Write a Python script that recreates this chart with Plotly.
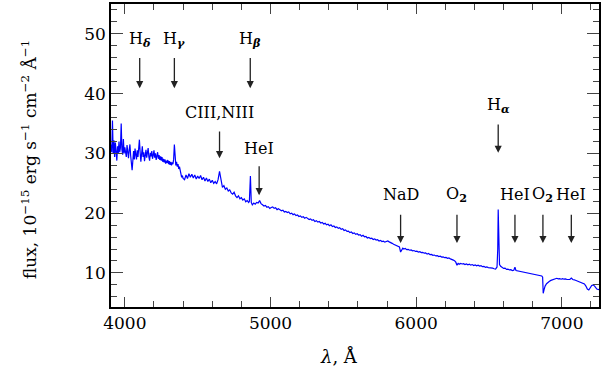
import plotly.graph_objects as go

# ---------------- data ----------------
wave_blue = [3905 + 5 * i for i in range(100)]  # 3905 .. 4400
flux_blue = [31.5, 30.2, 35.5, 30.0, 32.2, 29.4, 31.8, 30.4, 28.8, 31.2,
             30.0, 32.0, 30.2, 31.0, 35.0, 30.6, 29.8, 32.4, 30.0, 31.0,
             30.2, 29.4, 31.4, 30.0, 29.2, 30.6, 31.5, 29.6, 28.4, 27.2,
             28.8, 30.4, 29.0, 30.8, 29.8, 29.0, 30.5, 29.4, 30.8, 32.3,
             30.2, 28.6, 29.9, 31.2, 29.4, 30.2, 28.7, 29.8, 30.6, 29.3,
             30.2, 30.9, 29.4, 28.8, 30.1, 29.5, 30.4, 29.1, 29.7, 30.5,
             29.3, 30.0, 28.9, 29.6, 30.2, 29.1, 29.7, 28.9, 29.5, 28.8,
             29.4, 28.6, 29.1, 28.5, 29.0, 28.3, 28.8, 28.4, 28.9, 28.2,
             28.7, 28.1, 28.6, 28.0, 28.5, 28.2, 29.0, 31.5, 28.6, 28.0,
             28.6, 27.8, 28.2, 27.4, 27.8, 26.9, 26.6, 26.0, 26.3, 25.8]

wave_mid = [4410, 4420, 4430, 4440, 4450, 4460, 4470, 4480, 4490, 4500,
            4510, 4520, 4530, 4540, 4550, 4560, 4570, 4580, 4590, 4600,
            4610, 4620, 4630, 4640, 4650, 4660, 4670, 4680, 4690, 4700,
            4710, 4720, 4730, 4740, 4750, 4760, 4770, 4780, 4790, 4800,
            4810, 4820, 4830, 4840, 4850, 4855, 4862, 4868, 4875, 4885,
            4895, 4905, 4915, 4925, 4935, 4945, 4955, 4965, 4975, 4985, 4995]
flux_mid = [25.6, 26.4, 25.8, 26.6, 26.0, 26.5, 25.9, 26.4, 25.7, 26.2,
            25.8, 26.3, 25.6, 26.0, 25.4, 25.9, 25.3, 25.7, 25.1, 25.5,
            25.0, 25.3, 24.9, 25.6, 27.0, 25.2, 24.3, 24.6, 24.0, 24.2,
            23.7, 23.9, 23.4, 23.2, 23.5, 22.9, 22.6, 22.9, 22.4, 22.6,
            22.2, 22.4, 21.9, 22.1, 21.8, 22.0, 26.2, 21.8, 21.4, 21.7,
            21.5, 21.8, 21.7, 22.1, 21.6, 21.4, 21.2, 21.3, 21.0, 21.1, 20.8]

wave_green = [5005, 5015, 5025, 5035, 5045, 5055, 5065, 5075, 5085, 5095,
              5105, 5115, 5125, 5135, 5145, 5155, 5165, 5175, 5185, 5195,
              5205, 5215, 5225, 5235, 5245, 5255, 5265, 5275, 5285, 5295,
              5305, 5315, 5325, 5335, 5345, 5355, 5365, 5375, 5385, 5395,
              5405, 5415, 5425, 5435, 5445, 5455, 5465, 5475, 5485, 5495,
              5505, 5515, 5525, 5535, 5545, 5555, 5565, 5575, 5585, 5595,
              5605, 5615, 5625, 5635, 5645, 5655, 5665, 5675, 5685, 5695,
              5705, 5715, 5725, 5735, 5745, 5755, 5765, 5775, 5785, 5795,
              5805, 5815, 5825, 5835, 5845, 5855, 5865, 5875, 5885, 5893,
              5900, 5908, 5915, 5925, 5935, 5945, 5955, 5965, 5975, 5985,
              5995, 6005, 6015, 6025, 6035, 6045, 6055, 6065, 6075, 6085,
              6095, 6105, 6115, 6125, 6135, 6145, 6155, 6165, 6175, 6185,
              6195, 6205, 6215, 6225, 6235, 6245, 6255, 6265, 6272, 6280,
              6288, 6295, 6305, 6315, 6325, 6335, 6345, 6355, 6365, 6375,
              6385, 6395, 6405, 6415, 6425, 6435, 6445, 6455, 6465, 6475,
              6485, 6495, 6505, 6515, 6525, 6535, 6545]
flux_green = [20.95, 21.05, 20.8, 20.9, 20.6, 20.75, 20.55, 20.4, 20.5, 20.2,
              20.3, 20.1, 20.2, 19.9, 20.0, 19.75, 19.85, 19.6, 19.7, 19.45,
              19.55, 19.3, 19.4, 19.15, 19.3, 19.05, 18.95, 19.05, 18.8, 18.9,
              18.6, 18.75, 18.5, 18.6, 18.35, 18.45, 18.2, 18.3, 18.05, 18.15,
              17.9, 18.05, 17.75, 17.85, 17.6, 17.7, 17.45, 17.55, 17.3, 17.4,
              17.1, 17.2, 16.95, 17.0, 16.75, 16.85, 16.6, 16.7, 16.45, 16.55,
              16.35, 16.4, 16.15, 16.3, 16.05, 16.1, 15.85, 15.95, 15.75, 15.8,
              15.6, 15.7, 15.5, 15.55, 15.35, 15.45, 15.25, 15.3, 15.15, 15.25,
              15.35, 15.2, 15.0, 14.95, 14.8, 14.7, 14.6, 14.5, 14.35, 13.5,
              13.9, 14.15, 14.0, 14.1, 13.9, 13.95, 13.8, 13.85, 13.7, 13.75,
              13.6, 13.65, 13.5, 13.55, 13.4, 13.45, 13.3, 13.35, 13.15, 13.25,
              13.05, 13.1, 12.95, 13.0, 12.85, 12.9, 12.75, 12.8, 12.65, 12.7,
              12.55, 12.6, 12.45, 12.5, 12.35, 12.3, 12.15, 12.0, 11.8, 11.3,
              11.6, 11.45, 11.6, 11.5, 11.55, 11.4, 11.5, 11.35, 11.45, 11.3,
              11.4, 11.25, 11.35, 11.2, 11.3, 11.15, 11.2, 11.05, 11.1, 10.95,
              11.0, 10.9, 10.9, 10.8, 10.8, 10.7, 10.65]

wave_red = [6555, 6560, 6563, 6566, 6572, 6580, 6590, 6600, 6610, 6620,
            6630, 6640, 6650, 6660, 6670, 6678, 6685, 6695, 6705, 6715,
            6725, 6735, 6745, 6755, 6765, 6775, 6785, 6795, 6805, 6815,
            6825, 6835, 6845, 6855, 6862, 6868, 6872, 6878, 6885, 6895,
            6905, 6915, 6925, 6935, 6945, 6955, 6965, 6975, 6985, 6995,
            7005, 7015, 7025, 7035, 7045, 7055, 7065, 7075, 7085, 7095,
            7105, 7115, 7125, 7135, 7145, 7155, 7165, 7175, 7185, 7195,
            7205, 7215, 7225, 7240, 7255]
flux_red = [11.0, 14.0, 20.6, 14.0, 11.4, 11.1, 10.9, 10.75, 10.8, 10.6,
            10.65, 10.5, 10.55, 10.4, 10.45, 10.95, 10.4, 10.35, 10.3, 10.25,
            10.3, 10.15, 10.2, 10.05, 10.1, 9.95, 10.0, 9.85, 9.9, 9.75,
            9.8, 9.65, 9.7, 9.55, 9.5, 9.3, 6.6, 7.2, 7.8, 8.2,
            8.45, 8.6, 8.75, 8.85, 8.9, 9.0, 9.1, 9.0, 9.05, 8.95,
            9.05, 8.95, 9.0, 8.9, 8.95, 8.9, 9.15, 8.9, 8.85, 8.75,
            8.7, 8.6, 8.5, 8.45, 8.3, 8.15, 7.8, 7.3, 7.15, 7.6,
            7.9, 8.0, 7.8, 7.3, 7.2]

wavelength = wave_blue + wave_mid + wave_green + wave_red
flux = flux_blue + flux_mid + flux_green + flux_red

# line identifications: label, wavelength, text level, arrow tail, arrow tip
line_labels = ["H<sub><b><i>δ</i></b></sub>", "H<sub><b><i>γ</i></b></sub>",
               "H<sub><b><i>β</i></b></sub>", "CIII,NIII", "HeI",
               "H<sub><b><i>α</i></b></sub>", "NaD", "O<sub><b>2</b></sub>",
               "HeI", "O<sub><b>2</b></sub>", "HeI"]
line_waves = [4102, 4340, 4861, 4650, 4922, 6563, 5893, 6280, 6678, 6870, 7065]
text_levels = [49.0, 49.0, 49.0, 36.9, 30.9, 38.1, 23.1, 23.1, 23.1, 23.1, 23.1]
tail_levels = [46.2, 46.2, 46.2, 33.9, 28.1, 35.1, 20.0, 20.0, 20.0, 20.0, 20.0]
tip_levels = [40.9, 40.9, 40.9, 29.2, 23.0, 30.1, 15.0, 15.0, 15.0, 15.0, 15.0]

FONT = "DejaVu Serif"

fig = go.Figure()
fig.add_trace(go.Scatter(x=wavelength, y=flux, mode="lines",
                         line=dict(color="#0000ff", width=1.2),
                         hoverinfo="skip", showlegend=False))

annotations = []
for lab, w, tl, ta, tp in zip(line_labels, line_waves, text_levels, tail_levels, tip_levels):
    annotations.append(dict(x=w, y=tl, xref="x", yref="y", text=lab, showarrow=False,
                            font=dict(family=FONT, size=16, color="black"),
                            xanchor="center", yanchor="middle"))
    annotations.append(dict(x=w, y=tp, ax=w, ay=ta, xref="x", yref="y",
                            axref="x", ayref="y", text="", showarrow=True,
                            arrowhead=2, arrowsize=1.1, arrowwidth=1.3,
                            arrowcolor="#222222"))

annotations.append(dict(text="flux, 10<sup>−15</sup> erg s<sup>−1</sup> cm<sup>−2</sup> Å<sup>−1</sup>",
                        x=-0.168, y=0.485, xref="paper", yref="paper", textangle=-90,
                        showarrow=False, xanchor="center", yanchor="middle",
                        font=dict(family=FONT, size=17, color="black")))
annotations.append(dict(text="<i>λ</i>, Å", x=0.468, y=-0.165, xref="paper", yref="paper",
                        showarrow=False, xanchor="center", yanchor="middle",
                        font=dict(family=FONT, size=18, color="black")))

fig.update_layout(
    width=602, height=378,
    margin=dict(l=111, r=1, t=4, b=71),
    plot_bgcolor="white", paper_bgcolor="white",
    font=dict(family=FONT, size=17, color="black"),
    annotations=annotations,
    xaxis=dict(range=[3905, 7255], tick0=4000, dtick=1000, ticks="inside",
               ticklen=10, tickwidth=1.2, tickcolor="#444",
               showline=True, linecolor="black", linewidth=1.5, mirror="ticks",
               showgrid=False, zeroline=False,
               minor=dict(dtick=200, ticks="inside", ticklen=6, tickcolor="#444", tickwidth=1.2),
               tickfont=dict(family=FONT, size=17)),
    yaxis=dict(range=[4.3, 55], tick0=0, dtick=10, ticks="inside",
               ticklen=12, tickwidth=1.2, tickcolor="#444",
               showline=True, linecolor="black", linewidth=1.5, mirror="ticks",
               showgrid=False, zeroline=False,
               minor=dict(dtick=2, ticks="inside", ticklen=6, tickcolor="#444", tickwidth=1.2),
               tickfont=dict(family=FONT, size=17)),
)

fig.write_html("out.html")
